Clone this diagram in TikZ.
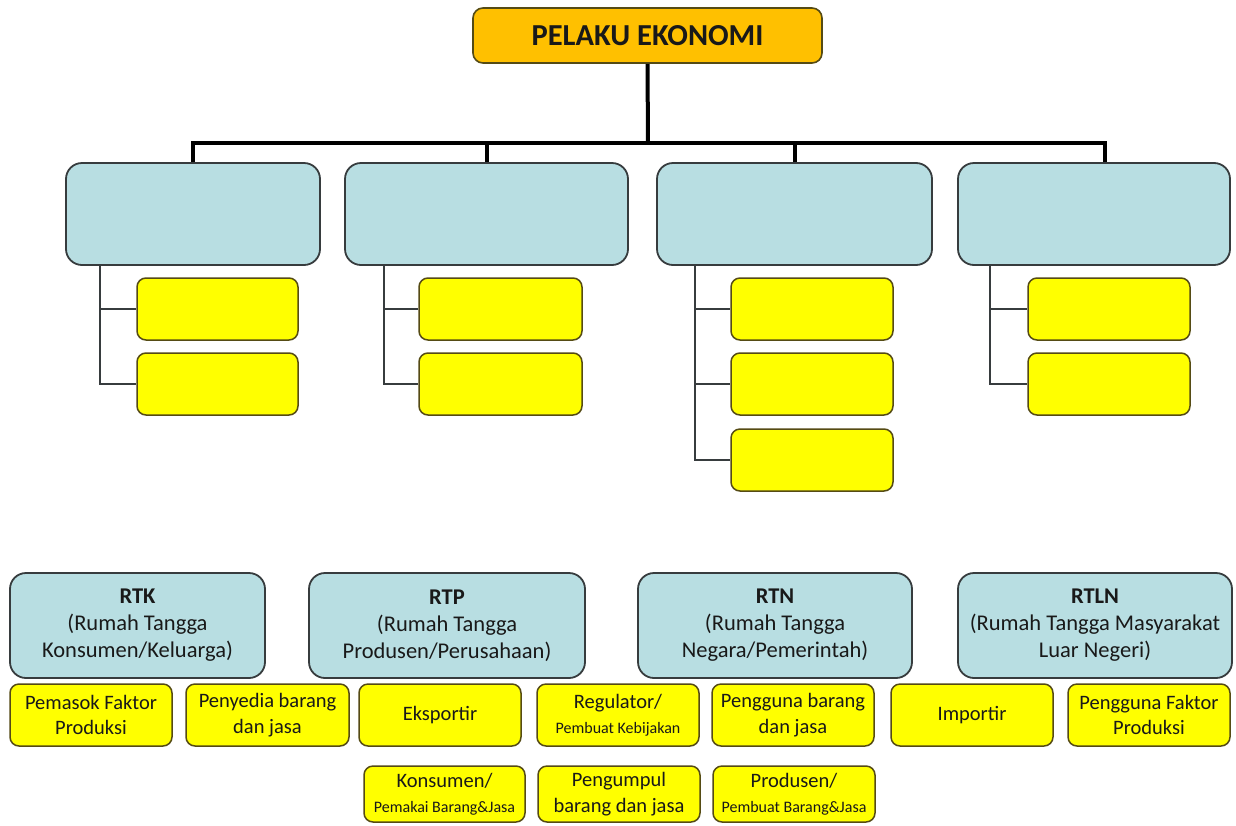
\documentclass[tikz,border=0pt]{standalone}
\usepackage{fontspec}
\setmainfont{Carlito}
\definecolor{bluef}{RGB}{184,222,226}
\definecolor{bdr}{RGB}{55,60,62}
\definecolor{yelf}{RGB}{255,255,0}
\definecolor{ybdr}{RGB}{85,75,20}
\definecolor{orf}{RGB}{255,192,0}
\definecolor{txt}{RGB}{25,25,25}
\tikzset{
  bluebox/.style={draw=bdr, fill=bluef, line width=1.8pt, rounded corners=16pt, align=center, text=txt, inner sep=0pt},
  ybox/.style={draw=ybdr, fill=yelf, line width=1.5pt, rounded corners=9pt, align=center, text=txt, inner sep=0pt},
  topbox/.style={draw=ybdr, fill=orf, line width=1.6pt, rounded corners=10pt, align=center, text=txt, inner sep=0pt},
  bus/.style={line width=4pt, draw=black},
  twig/.style={line width=1.8pt, draw=bdr},
  bfont/.style={font=\fontsize{22.5}{27}\selectfont},
  yfont/.style={font=\fontsize{20.5}{25.5}\selectfont}
}
\newcommand{\smalltxt}[1]{{\fontsize{16}{18}\selectfont #1}}
\begin{document}
\begin{tikzpicture}[x=1pt,y=-1pt]
\useasboundingbox[fill=white] (0,0) rectangle (1236,825);
% ---------- upper chart ----------
\node[topbox, minimum width=349pt, minimum height=55pt, font=\fontsize{30.5}{35}\selectfont\bfseries] (pe) at (647.5,35.5) {PELAKU EKONOMI};
\node[bluebox, minimum width=254pt, minimum height=102pt] (b1) at (193,214) {};
\node[bluebox, minimum width=283pt, minimum height=102pt] (b2) at (486.5,214) {};
\node[bluebox, minimum width=275pt, minimum height=102pt] (b3) at (794.5,214) {};
\node[bluebox, minimum width=272pt, minimum height=102pt] (b4) at (1094,214) {};
\coordinate (hub) at (648,143);
\coordinate (d1) at (193,143);
\coordinate (d2) at (487,143);
\coordinate (d3) at (795,143);
\coordinate (d4) at (1105,143);
\draw[bus] (pe.south) -- (hub);
\draw[bus, line cap=rect] (d1) -- (d4);
\draw[bus] (d1) -- (d1 |- b1.north);
\draw[bus] (d2) -- (d2 |- b2.north);
\draw[bus] (d3) -- (d3 |- b3.north);
\draw[bus] (d4) -- (d4 |- b4.north);
% yellow children
\node[ybox, minimum width=161pt, minimum height=62pt] (y11) at (217.5,309) {};
\node[ybox, minimum width=161pt, minimum height=62pt] (y12) at (217.5,384) {};
\node[ybox, minimum width=163pt, minimum height=62pt] (y21) at (500.5,309) {};
\node[ybox, minimum width=163pt, minimum height=62pt] (y22) at (500.5,384) {};
\node[ybox, minimum width=162pt, minimum height=62pt] (y31) at (812,309) {};
\node[ybox, minimum width=162pt, minimum height=62pt] (y32) at (812,384) {};
\node[ybox, minimum width=162pt, minimum height=62pt] (y33) at (812,460) {};
\node[ybox, minimum width=162pt, minimum height=62pt] (y41) at (1109,309) {};
\node[ybox, minimum width=162pt, minimum height=62pt] (y42) at (1109,384) {};
\coordinate (t1) at (100,265);
\coordinate (t2) at (384,265);
\coordinate (t3) at (695,265);
\coordinate (t4) at (990,265);
\draw[twig] (t1) |- (y12.west);
\draw[twig] (t1 |- y11.west) -- (y11.west);
\draw[twig] (t2) |- (y22.west);
\draw[twig] (t2 |- y21.west) -- (y21.west);
\draw[twig] (t3) |- (y33.west);
\draw[twig] (t3 |- y31.west) -- (y31.west);
\draw[twig] (t3 |- y32.west) -- (y32.west);
\draw[twig] (t4) |- (y42.west);
\draw[twig] (t4 |- y41.west) -- (y41.west);
% ---------- answer key ----------
\node[bluebox, bfont, minimum width=255pt, minimum height=105pt] (rtk) at (137.5,625.5) {\textbf{RTK}\\(Rumah Tangga\\Konsumen/Keluarga)};
\node[bluebox, bfont, minimum width=276pt, minimum height=105pt] (rtp) at (447,625.5) {\textbf{RTP}\\(Rumah Tangga\\Produsen/Perusahaan)};
\node[bluebox, bfont, minimum width=274pt, minimum height=105pt] (rtn) at (775,625.5) {\textbf{RTN}\\(Rumah Tangga\\Negara/Pemerintah)};
\node[bluebox, bfont, minimum width=274pt, minimum height=105pt] (rtln) at (1095,625.5) {\textbf{RTLN}\\(Rumah Tangga Masyarakat\\Luar Negeri)};
\node[ybox, yfont, minimum width=162pt, minimum height=62pt] (k1) at (91,715) {Pemasok Faktor\\Produksi};
\node[ybox, yfont, minimum width=163pt, minimum height=62pt] (k2) at (267.5,715) {Penyedia barang\\dan jasa};
\node[ybox, yfont, minimum width=162pt, minimum height=62pt] (k3) at (440,715) {Eksportir};
\node[ybox, yfont, minimum width=162pt, minimum height=62pt] (k4) at (618,715) {Regulator/\\\smalltxt{Pembuat Kebijakan}};
\node[ybox, yfont, minimum width=162pt, minimum height=62pt] (k5) at (793,715) {Pengguna barang\\dan jasa};
\node[ybox, yfont, minimum width=162pt, minimum height=62pt] (k6) at (972,715) {Importir};
\node[ybox, yfont, minimum width=162pt, minimum height=62pt] (k7) at (1149,715) {Pengguna Faktor\\Produksi};
\node[ybox, yfont, minimum width=161pt, minimum height=56pt] (k8) at (444.5,794) {Konsumen/\\\smalltxt{Pemakai Barang\&Jasa}};
\node[ybox, yfont, minimum width=162pt, minimum height=56pt] (k9) at (619,794) {Pengumpul\\barang dan jasa};
\node[ybox, yfont, minimum width=162pt, minimum height=56pt] (k10) at (794,794) {Produsen/\\\smalltxt{Pembuat Barang\&Jasa}};
\end{tikzpicture}
\end{document}
